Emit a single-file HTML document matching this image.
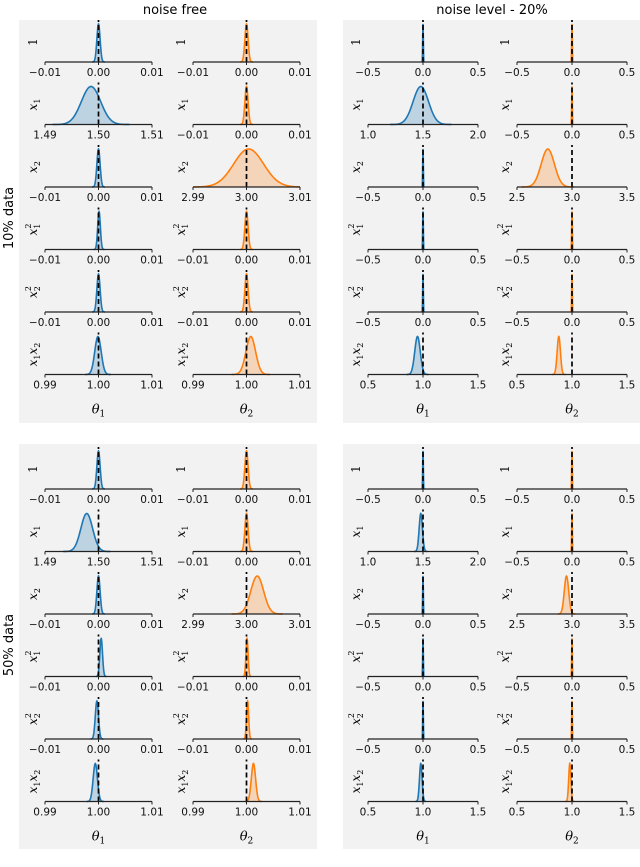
<!DOCTYPE html>
<html><head><meta charset="utf-8"><style>
html,body{margin:0;padding:0;background:#fff;}
svg{display:block;font-family:"DejaVu Sans","Liberation Sans",sans-serif;}
</style></head><body>
<svg id="fig" width="640" height="867" viewBox="0 0 640 867" xmlns="http://www.w3.org/2000/svg">
<rect x="19" y="20" width="298" height="403" fill="#f2f2f2"/>
<rect x="343" y="20" width="297" height="403" fill="#f2f2f2"/>
<rect x="19" y="444" width="298" height="405" fill="#f2f2f2"/>
<rect x="343" y="444" width="297" height="405" fill="#f2f2f2"/>
<text x="175" y="14" font-size="13" text-anchor="middle">noise free</text>
<text x="492" y="14" font-size="13" text-anchor="middle">noise level - 20%</text>
<text transform="translate(13,218) rotate(-90)" font-size="13" text-anchor="middle">10% data</text>
<text transform="translate(13,645) rotate(-90)" font-size="13" text-anchor="middle">50% data</text>
<g id="plots"></g>
</svg>
<script>
const rowTerms = ["1","x1","x2","x1^2","x2^2","x1x2"];
const truthVals = [[0,0],[1.5,0],[0,3],[0,0],[0,0],[1,1]];
const domainsNoiseFree = [[[-0.01,0.01],[-0.01,0.01]],[[1.49,1.51],[-0.01,0.01]],[[-0.01,0.01],[2.99,3.01]],[[-0.01,0.01],[-0.01,0.01]],[[-0.01,0.01],[-0.01,0.01]],[[0.99,1.01],[0.99,1.01]]];
const domainsNoisy = [[[-0.5,0.5],[-0.5,0.5]],[[1,2],[-0.5,0.5]],[[-0.5,0.5],[2.5,3.5]],[[-0.5,0.5],[-0.5,0.5]],[[-0.5,0.5],[-0.5,0.5]],[[0.5,1.5],[0.5,1.5]]];
const ticksNoiseFree = [[["−0.01","0.00","0.01"],["−0.01","0.00","0.01"]],[["1.49","1.50","1.51"],["−0.01","0.00","0.01"]],[["−0.01","0.00","0.01"],["2.99","3.00","3.01"]],[["−0.01","0.00","0.01"],["−0.01","0.00","0.01"]],[["−0.01","0.00","0.01"],["−0.01","0.00","0.01"]],[["0.99","1.00","1.01"],["0.99","1.00","1.01"]]];
const ticksNoisy = [[["−0.5","0.0","0.5"],["−0.5","0.0","0.5"]],[["1.0","1.5","2.0"],["−0.5","0.0","0.5"]],[["−0.5","0.0","0.5"],["2.5","3.0","3.5"]],[["−0.5","0.0","0.5"],["−0.5","0.0","0.5"]],[["−0.5","0.0","0.5"],["−0.5","0.0","0.5"]],[["0.5","1.0","1.5"],["0.5","1.0","1.5"]]];
const meansA = [[0,0],[1.4986,0],[0,3.0004],[0.0001,0],[0,0],[0.9999,1.0008]];
const sdsA   = [[0.0003,0.0003],[0.0018,0.0003],[0.0003,0.0028],[0.00025,0.0003],[0.0003,0.0003],[0.0006,0.0009]];
const meansB = [[0,0],[1.48,0],[0,2.78],[0,0],[0,0],[0.95,0.88]];
const sdsB   = [[0.003,0.003],[0.07,0.003],[0.003,0.06],[0.003,0.003],[0.003,0.003],[0.025,0.015]];
const meansC = [[0,0],[1.4978,0],[0,3.002],[0.0005,0.0001],[-0.0003,0.0002],[0.9994,1.0013]];
const sdsC   = [[0.0003,0.0003],[0.0011,0.0003],[0.0003,0.0012],[0.00025,0.0002],[0.0003,0.0002],[0.0004,0.0004]];
const meansD = [[0,0],[1.48,0],[0,2.95],[0,0],[0,0],[0.98,0.98]];
const sdsD   = [[0.003,0.003],[0.015,0.003],[0.003,0.02],[0.003,0.003],[0.003,0.003],[0.012,0.01]];

const NS="http://www.w3.org/2000/svg";
const g=document.getElementById('plots');
function mk(tag,attrs,parent){const e=document.createElementNS(NS,tag);for(const k in attrs)e.setAttribute(k,attrs[k]);(parent||g).appendChild(e);return e;}
const panels=[
 {means:meansA,sds:sdsA,dom:domainsNoiseFree,ticks:ticksNoiseFree,xs:[[45,152],[193,300]],y0:62,name:'nf10'},
 {means:meansB,sds:sdsB,dom:domainsNoisy,ticks:ticksNoisy,xs:[[368,478],[517,627]],y0:62,name:'n20-10'},
 {means:meansC,sds:sdsC,dom:domainsNoiseFree,ticks:ticksNoiseFree,xs:[[45,152],[193,300]],y0:489,name:'nf50'},
 {means:meansD,sds:sdsD,dom:domainsNoisy,ticks:ticksNoisy,xs:[[368,478],[517,627]],y0:489,name:'n20-50'}];
const colors=['#1f77b4','#ff7f0e'];
const rowGap=62.5, peakH=38;
panels.forEach((p,pi)=>{
 for(let r=0;r<6;r++){
  const yb=p.y0+r*rowGap;
  for(let c=0;c<2;c++){
   const [x0,x1]=p.xs[c];const [d0,d1]=p.dom[r][c];
   const sx=v=>x0+(v-d0)/(d1-d0)*(x1-x0);
   const grp=mk('g',{});
   
   
   const mu=p.means[r][c], sd=p.sds[r][c];
   let pts=[];
   const lo=Math.max(d0,mu-4*sd), hi=Math.min(d1,mu+4*sd);
   for(let i=0;i<=80;i++){const v=lo+(hi-lo)*i/80;const h=peakH*Math.exp(-0.5*((v-mu)/sd)**2);pts.push([sx(v),yb-h]);}
   const d='M'+pts.map(q=>q[0].toFixed(2)+','+q[1].toFixed(2)).join('L');
   const fill=mk('path',{d:d+'L'+pts[pts.length-1][0].toFixed(2)+','+yb+'L'+pts[0][0].toFixed(2)+','+yb+'Z',fill:colors[c],'fill-opacity':0.25,stroke:'none'},grp);
   
   
   const line=mk('path',{d:d,fill:'none',stroke:colors[c],'stroke-width':1.6},grp);
   
   
   const tx=sx(truthVals[r][c]);
   const tl=mk('line',{x1:tx,x2:tx,y1:yb,y2:yb-42,stroke:'#000','stroke-width':1.7,'stroke-dasharray':'5,3'},grp);
   
   
   const ax=mk('line',{x1:x0,x2:x1,y1:yb,y2:yb,stroke:'#222','stroke-width':1.2},grp);
   
   
   p.ticks[r][c].forEach((t,ti)=>{
    const xx=x0+(x1-x0)*ti/2;
    mk('line',{x1:xx,x2:xx,y1:yb,y2:yb+3,stroke:'#222','stroke-width':1},grp);
    const tt=mk('text',{x:xx,y:yb+14,'font-size':10.5,'text-anchor':'middle',fill:'#111'},grp);
    tt.textContent=t;
    
    
   });
   const lt=mk('text',{transform:'translate('+(x0-8)+','+(yb-20)+') rotate(-90)','font-size':12,'text-anchor':'middle','font-family':'"DejaVu Serif","Liberation Serif",serif','font-style':rowTerms[r]==='1'?'normal':'italic'},grp);
   
   
   const add=(txt,dy,fs,dx)=>{const s=mk('tspan',{},lt);if(dy)s.setAttribute('dy',dy);if(dx)s.setAttribute('dx',dx);if(fs)s.setAttribute('font-size',fs);s.setAttribute('font-style',fs?'normal':'italic');s.textContent=txt;};
   const t=rowTerms[r];
   if(t==='1'){lt.textContent='1';}
   else if(t==='x1'||t==='x2'){add('x');add(t[1],3,8);}
   else if(t.includes('^')){add('x');add(t[1],3,8);add('2',-9,8,-5);}
   else{add('x');add('1',3,8);add('x',-3);add('2',3,8);}
  }
 }
 for(let c=0;c<2;c++){
  const [x0,x1]=p.xs[c];
  const th=mk('text',{x:(x0+x1)/2,y:p.y0+5*rowGap+39,'font-size':13,'text-anchor':'middle','font-family':'"DejaVu Serif","Liberation Serif",serif','font-style':'italic'});
  
  
  th.textContent='θ';
  const s=mk('tspan',{dy:3,'font-size':9,'font-style':'normal'},th);s.textContent=String(c+1);
 }
});
</script>
</body></html>
